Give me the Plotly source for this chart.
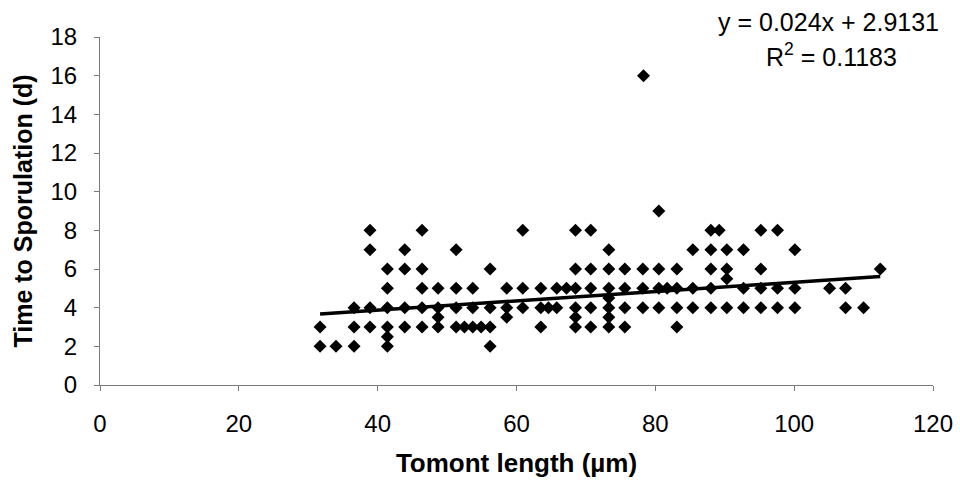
import plotly.graph_objects as go

# Tomont length (µm) and time to sporulation (d)
tomont_length = [
    38.9, 46.4,
    38.9, 43.9, 51.3,
    41.4, 43.9, 46.4, 56.2,
    41.4, 46.4, 48.7, 51.3, 53.7,
    36.6, 38.9, 41.4, 43.9, 46.4, 48.7, 51.3, 53.7, 56.2,
    48.7,
    31.7, 36.6, 38.9, 41.4, 43.9, 46.4, 48.7, 51.3, 52.5, 53.7, 54.9, 56.2,
    41.4,
    31.7, 34.0, 36.6, 41.4, 56.2,
    60.9, 68.5, 70.7, 88.0, 89.2,
    73.3, 85.4, 88.0,
    68.5, 70.7, 73.3, 75.6, 78.2, 80.5, 83.1, 88.0,
    58.6, 60.9, 63.5, 65.8, 67.2, 68.5, 70.7, 73.3, 75.6, 78.2, 80.5, 81.7, 83.1, 85.4, 88.0,
    73.3,
    58.6, 60.9, 63.5, 64.6, 65.8, 68.5, 70.7, 73.3, 75.6, 78.2, 80.5, 83.1, 85.4, 88.0,
    58.6, 68.5, 73.3,
    63.5, 68.5, 70.7, 73.3, 75.6, 83.1,
    80.5, 78.3,
    95.2, 97.6,
    90.3, 92.7, 100.1,
    90.3, 95.2, 112.4,
    90.3,
    92.7, 95.2, 97.6, 100.1, 105.1, 107.4,
    90.3, 92.7, 95.2, 97.6, 100.1, 107.4, 110.0,
]
sporulation_days = [
    8, 8,
    7, 7, 7,
    6, 6, 6, 6,
    5, 5, 5, 5, 5,
    4, 4, 4, 4, 4, 4, 4, 4, 4,
    3.5,
    3, 3, 3, 3, 3, 3, 3, 3, 3, 3, 3, 3,
    2.5,
    2, 2, 2, 2, 2,
    8, 8, 8, 8, 8,
    7, 7, 7,
    6, 6, 6, 6, 6, 6, 6, 6,
    5, 5, 5, 5, 5, 5, 5, 5, 5, 5, 5, 5, 5, 5, 5,
    4.5,
    4, 4, 4, 4, 4, 4, 4, 4, 4, 4, 4, 4, 4, 4,
    3.5, 3.5, 3.5,
    3, 3, 3, 3, 3, 3,
    9, 16,
    8, 8,
    7, 7, 7,
    6, 6, 6,
    5.5,
    5, 5, 5, 5, 5, 5,
    4, 4, 4, 4, 4, 4, 4,
]

slope = 0.024
intercept = 2.9131
r_squared = 0.1183

x_tick_vals = [0, 20, 40, 60, 80, 100, 120]
y_tick_vals = [0, 2, 4, 6, 8, 10, 12, 14, 16, 18]

trend_x = [min(tomont_length), max(tomont_length)]
trend_y = [slope * v + intercept for v in trend_x]

FONT = "Liberation Sans, Arial, sans-serif"

fig = go.Figure()
fig.add_trace(go.Scatter(
    x=tomont_length, y=sporulation_days, mode="markers",
    marker=dict(symbol="diamond", size=10, color="black"),
    showlegend=False, hoverinfo="x+y",
))
fig.add_trace(go.Scatter(
    x=trend_x, y=trend_y, mode="lines",
    line=dict(color="black", width=3.5),
    showlegend=False,
))

fig.update_layout(
    width=960, height=482,
    margin=dict(l=100, r=27, t=37, b=97),
    paper_bgcolor="white", plot_bgcolor="white",
    font=dict(family=FONT, color="black", size=24),
    xaxis=dict(
        range=[0, 120], tickvals=x_tick_vals, showgrid=False, zeroline=False,
        showline=True, linecolor="#7a7a7a", linewidth=1, automargin=False,
        ticks="outside", ticklen=5, tickcolor="#7a7a7a",
        tickfont=dict(size=24), ticklabelstandoff=12,
        title=dict(text="<b>Tomont length (µm)</b>", font=dict(size=26), standoff=18),
    ),
    yaxis=dict(
        range=[0, 18], tickvals=y_tick_vals, showgrid=False, zeroline=False,
        showline=True, linecolor="#7a7a7a", linewidth=1, automargin=False,
        ticks="outside", ticklen=5, tickcolor="#7a7a7a",
        tickfont=dict(size=24), ticklabelstandoff=12,
        title=dict(text="<b>Time to Sporulation (d)</b>", font=dict(size=25), standoff=10),
    ),
    annotations=[
        dict(text=f"y = {slope}x + {intercept}", xref="paper", yref="paper",
             x=0.874, y=1.043, showarrow=False, font=dict(size=25), xanchor="center", yanchor="middle"),
        dict(text=f"R<sup>2</sup> = {r_squared}", xref="paper", yref="paper",
             x=0.878, y=0.948, showarrow=False, font=dict(size=25), xanchor="center", yanchor="middle"),
    ],
)

fig.write_html("out.html")
